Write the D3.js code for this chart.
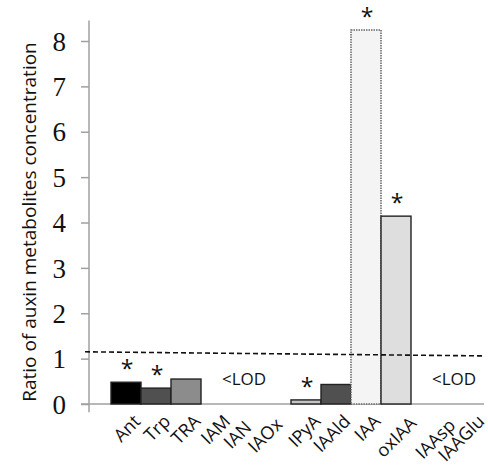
<!DOCTYPE html>
<html><head><meta charset="utf-8">
<script src="https://cdn.jsdelivr.net/npm/d3@7"></script>
<style>body{margin:0;background:#fff}svg{display:block}</style>
</head><body>
<svg id="c" width="488" height="474"></svg>
<script>
const categories = ["Ant","Trp","TRA","IAM","IAN","IAOx","IPyA","IAAld","IAA","oxIAA","IAAsp","IAAGlu"];
const values     = [0.48, 0.35, 0.55, 0, 0, 0, 0.09, 0.43, 8.24, 4.14, 0, 0];
const significant = [true, true, false, false, false, false, true, false, true, true, false, false];
const yTicks = [0,1,2,3,4,5,6,7,8];
const refLine = [1.15, 1.06];
const lodLabels = [{text:"<LOD", at:"IAN"}, {text:"<LOD", at:"IAAGlu"}];

// styling / layout tweaks
const fills = {Ant:"#000000",Trp:"#505050",TRA:"#8c8c8c",IPyA:"#c4c4c4",IAAld:"#505050",IAA:"#f4f4f4",oxIAA:"#dedede"};
const labelNudge = {IAN:[-9,6], IAOx:[-8,3], oxIAA:[6,2], IAAsp:[15,4], IAAGlu:[14,0]};

const svg = d3.select("#c");
const x = d3.scaleBand().domain(categories).range([111, 471]).padding(0);
const y = d3.scaleLinear().domain([0, 8]).range([404, 41]);
const axisColor = "#a0a0a0";

// y axis
const ya = svg.append("g").attr("transform","translate(89,0)")
  .call(d3.axisLeft(y).tickValues(yTicks).tickSize(8).tickSizeOuter(0).tickPadding(15));
ya.select(".domain").remove();
ya.selectAll(".tick line").attr("stroke", axisColor).attr("stroke-width",1.5);
ya.selectAll(".tick text").attr("font-family","'Liberation Serif', 'Times New Roman', serif")
  .attr("font-size",27).attr("fill","#111").attr("dy","0.34em");
svg.append("line").attr("x1",89).attr("x2",89).attr("y1",y(8.45)).attr("y2",y(-0.18))
  .attr("stroke",axisColor).attr("stroke-width",1.5);
// x axis line
svg.append("line").attr("x1",81).attr("x2",484).attr("y1",y(0)).attr("y2",y(0))
  .attr("stroke",axisColor).attr("stroke-width",1.5);

// bars
const data = categories.map((c,i)=>({c, v:values[i], s:significant[i]}));
svg.append("g").selectAll("rect").data(data.filter(d=>d.v>0)).join("rect")
  .attr("x", d=>x(d.c)).attr("width", x.bandwidth())
  .attr("y", d=>y(d.v)).attr("height", d=>y(0)-y(d.v))
  .attr("fill", d=>fills[d.c])
  .attr("stroke", d=>d.c==="IAA" ? "#666" : "#222")
  .attr("stroke-width", d=>d.c==="IAA" ? 1.5 : 1.4)
  .attr("stroke-dasharray", d=>d.c==="IAA" ? "1.5,1" : null);

// significance stars
svg.append("g").selectAll("text").data(data.filter(d=>d.s)).join("text")
  .attr("x", d=>x(d.c)+x.bandwidth()/2+1).attr("y", d=>y(d.v)-5)
  .attr("text-anchor","middle").attr("font-family","'Open Sans', sans-serif")
  .attr("font-size",23).attr("fill","#111").text("*");

// reference dashed line
svg.append("line").attr("x1",85).attr("x2",484).attr("y1",y(refLine[0])).attr("y2",y(refLine[1]))
  .attr("stroke","#111").attr("stroke-width",1.6).attr("stroke-dasharray","5,3");

// LOD labels
svg.append("g").selectAll("text").data(lodLabels).join("text")
  .attr("x", d=>x(d.at)+x.bandwidth()/2 - 2).attr("y", 385)
  .attr("text-anchor","middle").attr("font-family","'Open Sans', sans-serif")
  .attr("font-size",17).attr("fill","#111").text(d=>d.text);

// x labels (rotated -45 deg via matrix)
const c45 = Math.SQRT1_2;
svg.append("g").selectAll("text").data(categories).join("text")
  .attr("transform", d=>{
    const n = labelNudge[d] || [0,0];
    const tx = x(d)+x.bandwidth()/2+6+n[0], ty = y(0)+9+n[1];
    return "matrix(" + c45 + "," + (-c45) + "," + c45 + "," + c45 + "," + tx + "," + ty + ")";
  })
  .attr("text-anchor","end").attr("dy","0.75em").attr("font-family","'Open Sans', sans-serif")
  .attr("font-size",18).attr("fill","#111").text(d=>d);

// y title
svg.append("text").attr("transform","translate(36,222) rotate(-90)")
  .attr("text-anchor","middle").attr("font-family","'Open Sans', sans-serif")
  .attr("font-size",19).attr("fill","#111").text("Ratio of auxin metabolites concentration");
</script>
</body></html>
